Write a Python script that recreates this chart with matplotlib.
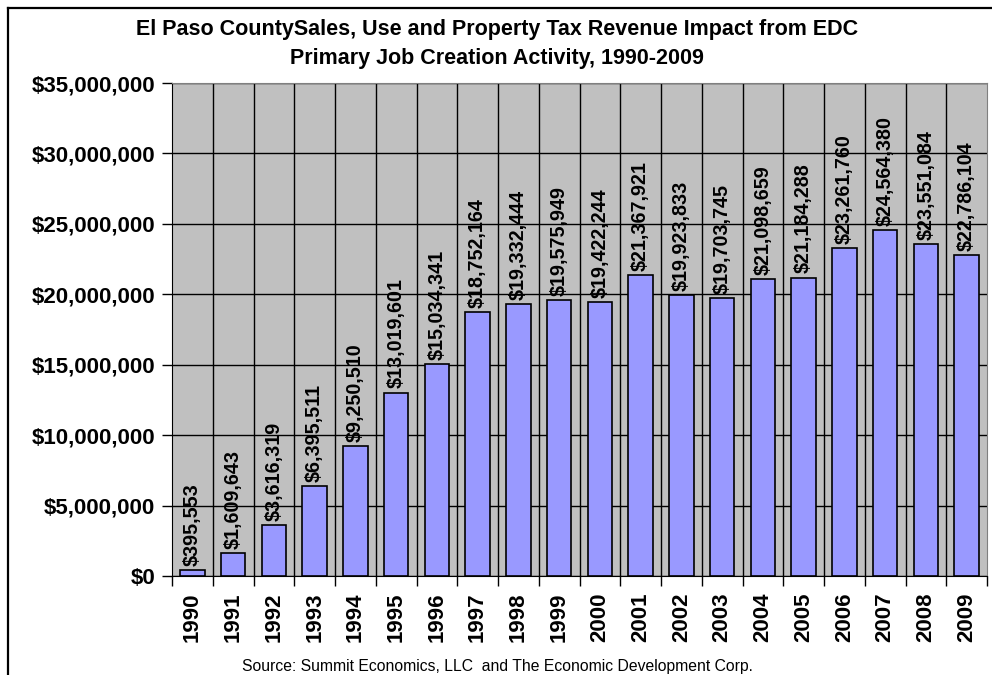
import matplotlib.pyplot as plt
from matplotlib.lines import Line2D
from matplotlib.ticker import FuncFormatter, MultipleLocator, FixedLocator
import numpy as np

plt.rcParams['font.family'] = ['Liberation Sans', 'DejaVu Sans']

years = [str(y) for y in range(1990, 2010)]
revenue = [395553, 1609643, 3616319, 6395511, 9250510, 13019601, 15034341,
           18752164, 19332444, 19575949, 19422244, 21367921, 19923833,
           19703745, 21098659, 21184288, 23261760, 24564380, 23551084,
           22786104]

title = ('El Paso CountySales, Use and Property Tax Revenue Impact from EDC\n'
         'Primary Job Creation Activity, 1990-2009')
source = 'Source: Summit Economics, LLC  and The Economic Development Corp.'

fig = plt.figure(figsize=(9.92, 6.75), dpi=100)
ax = fig.add_axes([172/992, 1 - 576/675, (987 - 172)/992, (576 - 83)/675])
ax.set_facecolor('#c0c0c0')

x = np.arange(len(years))
ax.bar(x, revenue, width=0.6, color='#9999ff', edgecolor='black',
       linewidth=1.2, zorder=3)

for xi, v in zip(x, revenue):
    ax.annotate(f'${v:,.0f}', (xi, v), xytext=(0, 3), textcoords='offset points',
                rotation=90, ha='center', va='bottom', fontsize=14.2,
                fontweight='bold', zorder=4)

ax.set_xlim(-0.5, len(years) - 0.5)
ax.set_ylim(0, 35000000)
ax.yaxis.set_major_locator(MultipleLocator(5000000))
ax.yaxis.set_major_formatter(FuncFormatter(lambda v, p: f'${v:,.0f}'))
ax.grid(axis='y', color='black', linewidth=1, zorder=1)

# category boundaries as vertical grid lines
bounds = np.arange(len(years) + 1) - 0.5
for b in bounds[1:-1]:
    ax.axvline(b, color='black', linewidth=1, zorder=1)
ax.xaxis.set_major_locator(FixedLocator(bounds))
ax.xaxis.set_major_formatter(FuncFormatter(lambda v, p: ''))
ax.set_xticks(x, years, minor=True)
ax.tick_params(axis='x', which='major', length=7, width=1, direction='out')
ax.tick_params(axis='x', which='minor', length=0, pad=12, labelrotation=90,
               labelsize=16)
for lbl in ax.get_xticklabels(minor=True):
    lbl.set_fontweight('bold')
ax.tick_params(axis='y', length=7, width=1, labelsize=16, pad=5)
for lbl in ax.get_yticklabels():
    lbl.set_fontweight('bold')

for s in ['top', 'right']:
    ax.spines[s].set_color('#808080')
ax.spines['left'].set_color('black')
ax.spines['bottom'].set_color('black')

fig.text(497/992, 1 - 44/675, title, ha='center', va='center', fontsize=15.5,
         fontweight='bold', linespacing=1.5)
fig.text(497/992, 1 - 667/675, source, ha='center', va='center', fontsize=11.3)

# outer chart border (runs off the right and bottom edges)
fig.add_artist(Line2D([8/992, 8/992], [0, 1 - 8/675], transform=fig.transFigure,
                      color='black', linewidth=1.6))
fig.add_artist(Line2D([8/992, 1], [1 - 8/675, 1 - 8/675], transform=fig.transFigure,
                      color='black', linewidth=1.6))

fig.savefig('out.png', dpi=100)
